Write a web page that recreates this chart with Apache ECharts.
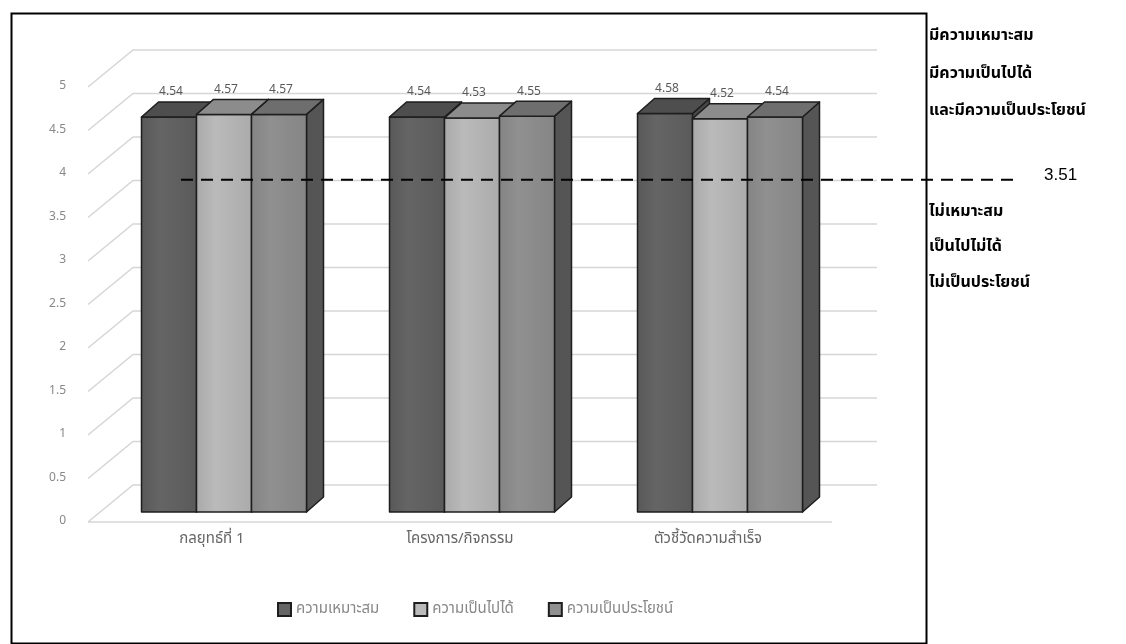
<!DOCTYPE html>
<html><head><meta charset="utf-8">
<script src="https://cdn.jsdelivr.net/npm/echarts@6/dist/echarts.min.js"></script>
<style>html,body{margin:0;padding:0;background:#fff}#c{width:1126px;height:644px}</style>
</head><body><div id="c"></div>
<script>
// ---- data ----
const categories = ['กลยุทธ์ที่ 1', 'โครงการ/กิจกรรม', 'ตัวชี้วัดความสำเร็จ'];
const seriesNames = ['ความเหมาะสม', 'ความเป็นไปได้', 'ความเป็นประโยชน์'];
const suitability = [4.54, 4.54, 4.58];
const feasibility = [4.57, 4.53, 4.52];
const usefulness = [4.57, 4.55, 4.54];
const yTicks = [0, 0.5, 1, 1.5, 2, 2.5, 3, 3.5, 4, 4.5, 5];
const threshold = 3.51;
const aboveText = ['มีความเหมาะสม', 'มีความเป็นไปได้', 'และมีความเป็นประโยชน์'];
const belowText = ['ไม่เหมาะสม', 'เป็นไปไม่ได้', 'ไม่เป็นประโยชน์'];

// ---- styling ----
const FONT = '"Noto Sans Thai","Noto Sans","DejaVu Sans",sans-serif';
const WALL = [45, -37];   // back wall offset
const FRONT = [12, -10];  // bar front-face offset
const DEPTH = [17, -15];  // bar depth
const BAR_W = 55;
const palette = [
  {front: ['#585858', '#656565', '#5a5a5a'], top: '#4e4e4e', side: '#474747'},
  {front: ['#a9a9a9', '#bababa', '#ababab'], top: '#8c8c8c', side: '#7a7a7a'},
  {front: ['#848484', '#909090', '#858585'], top: '#6e6e6e', side: '#555555'}
];
const seriesValues = [suitability, feasibility, usefulness];

const chart = echarts.init(document.getElementById('c'), null, {renderer: 'canvas'});

function gridItem(params, api) {
  const v = api.value(1);
  const bw = api.size([1, 0])[0];
  const x0 = api.coord([0, 0])[0] - bw / 2;
  const xEnd = api.coord([categories.length - 1, 0])[0] + bw / 2;
  const y = api.coord([0, v])[1];
  const children = [{
    type: 'polyline',
    shape: {points: [[x0, y], [x0 + WALL[0], y + WALL[1]], [xEnd + WALL[0], y + WALL[1]]]},
    style: {stroke: '#d6d6d6', lineWidth: 1.5, fill: null}
  }];
  if (v === 0) {
    children.push({type: 'line', shape: {x1: x0, y1: y, x2: xEnd, y2: y},
      style: {stroke: '#d6d6d6', lineWidth: 1.5}});
  }
  return {type: 'group', children};
}

function barRenderer(s) {
  return function (params, api) {
    const i = api.value(0), v = api.value(1);
    const c = api.coord([i, v]);
    const base = api.coord([i, 0]);
    const L = c[0] - 1.5 * BAR_W + s * BAR_W + FRONT[0];
    const R = L + BAR_W;
    const yT = c[1] + FRONT[1];
    const yB = base[1] + FRONT[1];
    const p = palette[s];
    const dx = DEPTH[0], dy = DEPTH[1];
    const stroke = {stroke: '#1e1e1e', lineWidth: 1.5, lineJoin: 'round'};
    return {type: 'group', children: [
      {type: 'polygon', shape: {points: [[R, yT], [R + dx, yT + dy], [R + dx, yB + dy], [R, yB]]},
        style: Object.assign({fill: p.side}, stroke)},
      {type: 'rect', shape: {x: L, y: yT, width: BAR_W, height: yB - yT},
        style: Object.assign({fill: new echarts.graphic.LinearGradient(0, 0, 1, 0, [
          {offset: 0, color: p.front[0]}, {offset: 0.35, color: p.front[1]}, {offset: 1, color: p.front[2]}])}, stroke)},
      {type: 'polygon', shape: {points: [[L, yT], [R, yT], [R + dx, yT + dy], [L + dx, yT + dy]]},
        style: Object.assign({fill: p.top}, stroke)},
      {type: 'text', style: {text: v.toFixed(2), x: (L + R) / 2 + 2, y: yT + dy - 3,
        align: 'center', verticalAlign: 'bottom', fill: '#5a5a5a', font: '12px ' + FONT}}
    ]};
  };
}

function thresholdItem(params, api) {
  const v = api.value(1);
  const bw = api.size([1, 0])[0];
  const x0 = api.coord([0, 0])[0] - bw / 2 + 93;
  const y = api.coord([0, v])[1] + WALL[1];
  return {type: 'group', children: [
    {type: 'line', shape: {x1: x0, y1: y, x2: 1020, y2: y},
      style: {stroke: '#000', lineWidth: 2, lineDash: [12, 8]}},
    {type: 'text', style: {text: v.toFixed(2), x: 1044, y: y - 4, verticalAlign: 'middle',
      fill: '#000', font: '17px "Liberation Sans", Arial, sans-serif'}}
  ]};
}

const series = [{
  type: 'custom', name: 'grid', silent: true, z: 1,
  data: yTicks.map(t => [0, t]), encode: {x: 0, y: 1},
  renderItem: gridItem, clip: false
}];
seriesValues.forEach((vals, s) => {
  series.push({
    type: 'custom', name: seriesNames[s], z: 2 + s,
    data: vals.map((v, i) => [i, v]), encode: {x: 0, y: 1},
    itemStyle: {color: palette[s].front[1], borderColor: '#1e1e1e', borderWidth: 1.5},
    renderItem: barRenderer(s), clip: false
  });
});
series.push({
  type: 'custom', name: 'threshold', silent: true, z: 10,
  data: [[0, threshold]], encode: {x: 0, y: 1},
  renderItem: thresholdItem, clip: false
});

const rightTexts = [];
const aboveY = [37, 75, 112];
const belowY = [213, 248, 284];
aboveText.forEach((t, k) => rightTexts.push({type: 'text', x: 929, y: aboveY[k],
  style: {text: t, fill: '#000', font: 'bold 16px ' + FONT, verticalAlign: 'middle'}}));
belowText.forEach((t, k) => rightTexts.push({type: 'text', x: 929, y: belowY[k],
  style: {text: t, fill: '#000', font: 'bold 16px ' + FONT, verticalAlign: 'middle'}}));

chart.setOption({
  animation: false,
  backgroundColor: '#fff',
  grid: {left: 88, right: 294, top: 87, bottom: 122},
  xAxis: {
    type: 'category', data: categories,
    axisLine: {show: false}, axisTick: {show: false},
    axisLabel: {color: '#666', fontSize: 15, fontFamily: FONT, margin: 10}
  },
  yAxis: {
    type: 'value', min: 0, max: 5, interval: 0.5,
    axisLine: {show: false}, axisTick: {show: false}, splitLine: {show: false},
    axisLabel: {color: '#888', fontSize: 12, fontFamily: FONT, margin: 22}
  },
  legend: {
    data: seriesNames, left: 272, top: 597, icon: 'rect', itemWidth: 13, itemHeight: 13,
    itemGap: 34, textStyle: {color: '#888', fontSize: 15, fontFamily: FONT}
  },
  graphic: [
    {type: 'rect', left: 9, top: 11, shape: {width: 915, height: 630},
      style: {fill: null, stroke: '#000', lineWidth: 2}, silent: true}
  ].concat(rightTexts),
  series
});
</script></body></html>
